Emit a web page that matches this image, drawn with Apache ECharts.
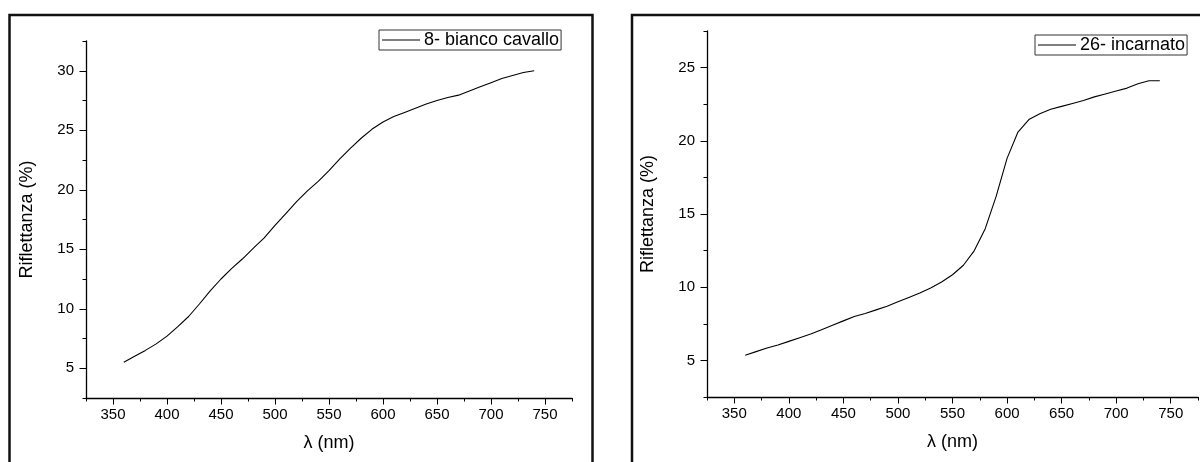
<!DOCTYPE html>
<html>
<head>
<meta charset="utf-8">
<script src="https://cdn.jsdelivr.net/npm/echarts@6/dist/echarts.min.js"></script>
<style>
  html, body { margin: 0; padding: 0; background: #fff; }
  #chart { width: 1200px; height: 462px; }
</style>
</head>
<body>
<div id="chart"></div>
<script>
// Reflectance spectra of two pigments, 360–740 nm in 10 nm steps
const wavelength = [360, 370, 380, 390, 400, 410, 420, 430, 440, 450,
                    460, 470, 480, 490, 500, 510, 520, 530, 540, 550,
                    560, 570, 580, 590, 600, 610, 620, 630, 640, 650,
                    660, 670, 680, 690, 700, 710, 720, 730, 740];

const biancoCavallo = [5.5, 6.0, 6.5, 7.05, 7.7, 8.5, 9.35, 10.4, 11.5, 12.5,
                       13.4, 14.2, 15.1, 15.95, 17.0, 18.0, 19.0, 19.9, 20.7, 21.6,
                       22.6, 23.5, 24.35, 25.1, 25.7, 26.15, 26.5, 26.85, 27.2, 27.5,
                       27.75, 27.95, 28.3, 28.65, 29.0, 29.35, 29.6, 29.85, 30.0];

const incarnato = [5.35, 5.6, 5.85, 6.05, 6.3, 6.55, 6.8, 7.1, 7.4, 7.7,
                   8.0, 8.2, 8.45, 8.7, 9.0, 9.3, 9.6, 9.95, 10.35, 10.85,
                   11.5, 12.5, 14.0, 16.2, 18.8, 20.6, 21.45, 21.85, 22.15, 22.35,
                   22.55, 22.75, 23.0, 23.2, 23.4, 23.6, 23.9, 24.1, 24.1];

const seriesNames = ['8- bianco cavallo', '26- incarnato'];

// Tick labels
const xTicks = [350, 400, 450, 500, 550, 600, 650, 700, 750];
const yTicksLeft = [5, 10, 15, 20, 25, 30];
const yTicksRight = [5, 10, 15, 20, 25];

const FONT = 'Liberation Sans, Arial, sans-serif';
const INK = '#000';
const TICK_FONT = 15;
const TITLE_FONT = 18;

const pairs = (xs, ys) => xs.map((x, i) => [x, ys[i]]);

// Minor-tick axis: ticks every half step, no labels, carries the axis line and title
function minorAxis(extra) {
  return Object.assign({
    type: 'value',
    axisLine: { show: true, lineStyle: { color: INK, width: 1.3 } },
    axisTick: { show: true, inside: false, length: 3.5, lineStyle: { color: INK, width: 1 } },
    axisLabel: { show: false },
    splitLine: { show: false },
    nameTextStyle: { fontFamily: FONT, fontSize: TITLE_FONT, color: INK }
  }, extra);
}

// Major-tick axis: long ticks and labels at the listed values
function majorAxis(values, margin, extra) {
  return Object.assign({
    type: 'value',
    axisLine: { show: false },
    axisTick: { show: true, inside: false, length: 6.5, customValues: values, lineStyle: { color: INK, width: 1 } },
    axisLabel: { show: true, customValues: values, margin: margin, fontFamily: FONT, fontSize: TICK_FONT, color: INK },
    splitLine: { show: false }
  }, extra);
}

function legendBox(name, left, top) {
  return {
    data: [name], left: left, top: top,
    orient: 'horizontal', padding: [1, 2, 1, 3],
    borderColor: '#333', borderWidth: 1, backgroundColor: '#fff',
    icon: 'rect', itemWidth: 38, itemHeight: 1.2,
    textStyle: { fontFamily: FONT, fontSize: TITLE_FONT, color: INK, padding: [0, 0, 0, -1] }
  };
}

const chart = echarts.init(document.getElementById('chart'), null, { renderer: 'canvas' });

chart.setOption({
  backgroundColor: '#fff',
  animation: false,
  grid: [
    { left: 86, top: 41, width: 486, height: 357 },
    { left: 707, top: 31, width: 491, height: 366 }
  ],
  xAxis: [
    minorAxis({ gridIndex: 0, position: 'bottom', min: 325, max: 775, interval: 25,
                name: 'λ (nm)', nameLocation: 'middle', nameGap: 36 }),
    majorAxis(xTicks, 9, { gridIndex: 0, position: 'bottom', min: 325, max: 775 }),
    minorAxis({ gridIndex: 1, position: 'bottom', min: 325, max: 775, interval: 25,
                name: 'λ (nm)', nameLocation: 'middle', nameGap: 36 }),
    majorAxis(xTicks, 9, { gridIndex: 1, position: 'bottom', min: 325, max: 775 })
  ],
  yAxis: [
    minorAxis({ gridIndex: 0, position: 'left', min: 2.5, max: 32.5, interval: 2.5,
                name: 'Riflettanza (%)', nameLocation: 'middle', nameGap: 50 }),
    majorAxis(yTicksLeft, 12, { gridIndex: 0, position: 'left', min: 2.5, max: 32.5 }),
    minorAxis({ gridIndex: 1, position: 'left', min: 2.5, max: 27.5, interval: 2.5,
                name: 'Riflettanza (%)', nameLocation: 'middle', nameGap: 50 }),
    majorAxis(yTicksRight, 12, { gridIndex: 1, position: 'left', min: 2.5, max: 27.5 })
  ],
  legend: [
    legendBox(seriesNames[0], 379, 30),
    legendBox(seriesNames[1], 1035, 35)
  ],
  series: [
    {
      name: seriesNames[0], type: 'line', xAxisIndex: 0, yAxisIndex: 0,
      data: pairs(wavelength, biancoCavallo),
      symbol: 'none', smooth: false,
      lineStyle: { color: INK, width: 1.1 }, itemStyle: { color: INK }
    },
    {
      name: seriesNames[1], type: 'line', xAxisIndex: 2, yAxisIndex: 2,
      data: pairs(wavelength, incarnato),
      symbol: 'none', smooth: false,
      lineStyle: { color: INK, width: 1.1 }, itemStyle: { color: INK }
    }
  ],
  graphic: [
    // Panel frames (open at the bottom edge of the page)
    { type: 'rect', silent: true, z: 100,
      shape: { x: 9.5, y: 15, width: 583, height: 500 },
      style: { fill: 'none', stroke: '#111', lineWidth: 2.5 } },
    { type: 'rect', silent: true, z: 100,
      shape: { x: 632, y: 15, width: 620, height: 500 },
      style: { fill: 'none', stroke: '#111', lineWidth: 2.5 } }
  ]
});
</script>
</body>
</html>
